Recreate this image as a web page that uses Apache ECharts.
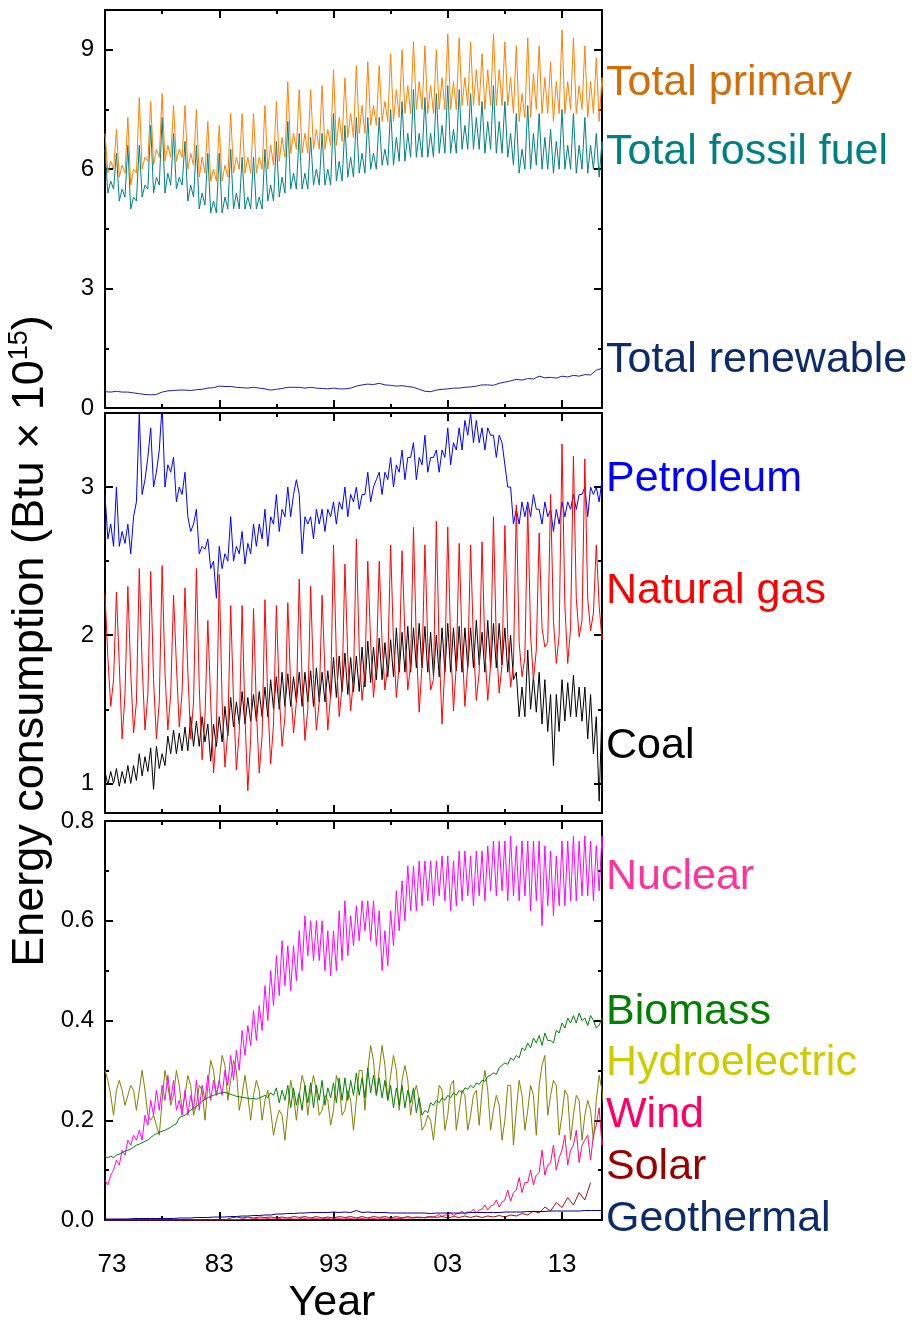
<!DOCTYPE html>
<html><head><meta charset="utf-8">
<script src="https://cdn.jsdelivr.net/npm/echarts@6/dist/echarts.min.js"></script>
<style>html,body{margin:0;padding:0;background:#fff}#c{width:912px;height:1325px}</style>
</head><body><div id="c"></div>
<script>
// ---------------- DATA (Btu x 10^15), first sample = Jan 1973 ----------------
const START_YEAR = 1973;
const QUARTER = 0.25;   // quarterly samples: Jan, Apr, Jul, Oct
const HALF = 0.5;       // half-yearly samples: Jan, Jul

const xMajorTicks = [1973, 1983, 1993, 2003, 2013];
const xMinorTicks = [1978, 1988, 1998, 2008];
const xTickLabels = ['73', '83', '93', '03', '13'];

const yTopTicks = [0, 3, 6, 9];
const yTopMinor = [1.5, 4.5, 7.5];
const yMidTicks = [1, 2, 3];
const yMidMinor = [1.5, 2.5];
const yBotTicks = [0, 0.2, 0.4, 0.6, 0.8];
const yBotMinor = [0.1, 0.3, 0.5, 0.7];

// Top panel
const totalPrimary = [
6.9,5.9,6.2,6.0, 7.0,5.8,6.1,5.9, 7.3,5.6,6.0,5.9, 7.8,6.0,6.3,6.2, 7.7,6.1,6.5,6.3,
7.9,6.2,6.6,6.3, 7.6,6.2,6.5,6.3, 7.6,6.0,6.4,6.1, 7.5,5.8,6.3,5.9, 7.2,5.7,6.0,5.7,
7.1,5.7,6.1,5.8, 7.4,5.9,6.3,6.0, 7.4,5.9,6.3,5.9, 7.4,5.9,6.3,6.0, 7.6,6.0,6.6,6.1,
7.7,6.2,6.8,6.3, 8.2,6.4,6.9,6.5, 8.0,6.4,6.9,6.4, 8.0,6.5,7.0,6.5, 8.1,6.5,7.0,6.6,
8.5,6.6,7.3,6.7, 8.3,6.8,7.4,6.8, 8.6,6.9,7.6,6.9, 8.7,7.1,7.6,7.1, 8.6,7.2,7.7,7.2,
8.9,7.2,8.0,7.3, 9.0,7.4,8.1,7.4, 9.2,7.5,8.2,7.5, 9.1,7.4,8.1,7.4, 9.0,7.5,8.3,7.5,
9.4,7.5,8.2,7.5, 9.3,7.6,8.3,7.6, 9.2,7.6,8.5,7.6, 8.9,7.5,8.5,7.6, 9.4,7.6,8.5,7.6,
9.2,7.6,8.3,7.4, 9.1,7.2,7.9,7.3, 9.3,7.3,8.4,7.5, 9.1,7.4,8.3,7.4, 8.7,7.2,8.2,7.4,
9.5,7.4,8.2,7.5, 9.3,7.4,8.1,7.5, 9.1,7.3,8.2,7.4, 8.8,7.2,8.3,7.4
];
const totalFossil = [
6.5,5.4,5.7,5.5, 6.4,5.2,5.5,5.3, 6.6,5.0,5.3,5.2, 6.6,5.3,5.6,5.5, 7.1,5.4,5.8,5.6,
7.3,5.4,5.9,5.6, 6.9,5.5,5.8,5.6, 6.7,5.2,5.6,5.3, 6.6,5.0,5.4,5.1, 6.4,4.9,5.2,4.9,
6.4,4.9,5.3,5.0, 6.5,5.0,5.4,5.0, 6.3,5.0,5.3,5.0, 6.3,5.0,5.3,5.0, 6.5,5.2,5.6,5.2,
6.7,5.3,5.8,5.4, 7.2,5.5,5.9,5.5, 6.9,5.5,5.9,5.5, 6.8,5.6,6.0,5.6, 6.9,5.6,6.0,5.6,
7.4,5.7,6.2,5.7, 7.1,5.8,6.3,5.8, 7.3,5.9,6.4,5.9, 7.3,6.0,6.4,6.0, 7.3,6.1,6.5,6.1,
7.5,6.1,6.8,6.2, 7.7,6.2,6.9,6.3, 8.0,6.3,6.9,6.3, 7.8,6.3,6.9,6.3, 7.9,6.4,7.1,6.4,
8.1,6.4,7.0,6.4, 8.0,6.5,7.1,6.5, 7.9,6.5,7.3,6.5, 7.7,6.4,7.2,6.5, 8.1,6.4,7.2,6.4,
7.7,6.3,6.9,6.1, 7.4,5.9,6.5,6.0, 7.6,6.0,6.9,6.1, 7.4,6.0,6.8,6.0, 7.0,5.9,6.7,6.0,
7.5,6.0,6.6,6.0, 7.4,5.9,6.6,6.0, 7.3,5.9,6.6,6.0, 6.9,5.8,6.7,5.9
];
const totalRenewable = [
0.41,0.40, 0.42,0.40, 0.40,0.38, 0.36,0.34, 0.33,0.34, 0.40,0.43, 0.44,0.45, 0.45,0.44,
0.46,0.47, 0.50,0.51, 0.55,0.54, 0.54,0.52, 0.51,0.50, 0.52,0.50, 0.48,0.45, 0.47,0.49,
0.52,0.52, 0.52,0.50, 0.52,0.50, 0.49,0.48, 0.50,0.48, 0.48,0.50, 0.55,0.58, 0.60,0.59,
0.62,0.58, 0.57,0.55, 0.56,0.54, 0.52,0.47, 0.42,0.41, 0.45,0.47, 0.48,0.50, 0.50,0.52,
0.53,0.55, 0.58,0.58, 0.57,0.62, 0.65,0.68, 0.72,0.70, 0.74,0.73, 0.80,0.76, 0.77,0.75,
0.80,0.78, 0.82,0.80, 0.84,0.83, 0.95,1.00
];

// Middle panel
const petroleum = [
2.95,2.65,2.75,2.60, 3.00,2.60,2.70,2.62, 2.75,2.55,2.80,2.90, 3.50,2.95,3.05,3.20, 3.40,3.00,3.10,3.25,
3.55,3.00,3.15,3.10, 3.20,2.90,3.00,2.95, 3.10,2.80,2.70,2.75, 2.85,2.55,2.60,2.58, 2.65,2.45,2.50,2.25,
2.60,2.45,2.55,2.50, 2.80,2.50,2.60,2.55, 2.70,2.48,2.62,2.55, 2.75,2.60,2.75,2.65, 2.85,2.60,2.80,2.75,
2.95,2.70,2.85,2.80, 3.00,2.80,2.95,3.05, 2.95,2.55,2.80,2.75, 2.80,2.65,2.85,2.75, 2.85,2.70,2.85,2.80,
2.90,2.75,2.90,2.85, 3.00,2.80,2.95,2.90, 3.00,2.85,2.95,2.95, 3.10,2.90,3.00,3.05, 3.10,2.95,3.10,3.05,
3.20,3.00,3.15,3.10, 3.25,3.05,3.20,3.20, 3.30,3.05,3.20,3.15, 3.35,3.10,3.20,3.20, 3.25,3.10,3.25,3.20,
3.40,3.15,3.30,3.25, 3.40,3.25,3.45,3.35, 3.50,3.30,3.45,3.30, 3.40,3.25,3.40,3.35, 3.35,3.20,3.35,3.30,
3.15,3.00,3.00,2.75, 2.85,2.75,2.90,2.80, 2.90,2.80,2.95,2.85, 2.85,2.75,2.90,2.80, 2.85,2.70,2.85,2.75,
2.90,2.80,2.90,2.85, 2.95,2.85,2.95,2.95, 3.00,2.80,3.00,2.95, 3.00,2.90,3.05,2.95
];
const naturalGas = [
2.28,1.85,1.52,1.70, 2.29,1.80,1.30,1.60, 2.33,1.75,1.34,1.55, 2.45,1.80,1.36,1.60, 2.43,1.70,1.30,1.55,
2.47,1.75,1.36,1.60, 2.27,1.80,1.38,1.62, 2.32,1.75,1.30,1.55, 2.45,1.65,1.16,1.45, 2.10,1.55,1.07,1.35,
2.41,1.55,1.11,1.35, 2.20,1.55,1.09,1.35, 2.20,1.45,0.95,1.30, 2.18,1.50,1.07,1.32, 2.24,1.55,1.13,1.40,
2.20,1.60,1.25,1.45, 2.22,1.65,1.34,1.55, 2.38,1.70,1.29,1.50, 2.33,1.70,1.36,1.55, 2.27,1.75,1.36,1.60,
2.61,1.85,1.45,1.65, 2.48,1.85,1.49,1.70, 2.65,1.90,1.56,1.75, 2.50,1.95,1.58,1.80, 2.50,1.95,1.63,1.80,
2.61,1.95,1.58,1.80, 2.57,2.00,1.63,1.80, 2.73,1.95,1.48,1.80, 2.61,1.95,1.63,1.70, 2.77,1.90,1.40,1.80,
2.73,1.95,1.49,1.80, 2.62,1.95,1.52,1.80, 2.61,1.95,1.56,1.75, 2.63,1.90,1.56,1.80, 2.80,1.95,1.61,1.80,
2.74,2.00,1.65,1.80, 2.88,1.95,1.72,1.85, 2.88,2.00,1.70,1.90, 2.69,2.05,1.92,1.95, 2.95,2.10,1.81,2.00,
3.29,2.20,1.81,2.05, 3.21,2.25,1.99,2.10, 3.19,2.25,2.03,2.15, 2.61,2.20,1.97,2.05
];
const coal = [
1.08,0.99,1.08,1.00, 1.10,0.98,1.08,1.00, 1.12,1.00,1.12,1.02, 1.20,1.05,1.18,1.08, 1.24,0.96,1.25,1.10,
1.20,1.12,1.32,1.20, 1.36,1.20,1.34,1.22, 1.38,1.22,1.45,1.25, 1.42,1.25,1.45,1.28, 1.40,1.15,1.40,1.25,
1.45,1.28,1.52,1.32, 1.58,1.38,1.55,1.40, 1.62,1.40,1.58,1.42, 1.60,1.42,1.62,1.45, 1.65,1.45,1.70,1.50,
1.72,1.50,1.75,1.52, 1.74,1.52,1.72,1.55, 1.75,1.52,1.75,1.55, 1.76,1.52,1.78,1.55, 1.75,1.55,1.76,1.58,
1.85,1.58,1.86,1.62, 1.88,1.60,1.85,1.62, 1.86,1.62,1.92,1.65, 1.96,1.68,1.92,1.70, 1.98,1.70,1.95,1.72,
1.97,1.72,2.05,1.75, 2.02,1.75,2.06,1.75, 2.05,1.78,2.08,1.78, 2.06,1.75,2.02,1.72, 2.00,1.72,2.05,1.75,
2.08,1.75,2.05,1.76, 2.06,1.75,2.05,1.78, 2.05,1.78,2.10,1.80, 2.02,1.75,2.10,1.78, 2.08,1.78,2.08,1.80,
2.05,1.75,2.00,1.70, 1.75,1.45,1.65,1.45, 1.90,1.50,1.72,1.48, 1.75,1.40,1.70,1.35, 1.60,1.12,1.60,1.35,
1.70,1.42,1.68,1.45, 1.73,1.45,1.65,1.42, 1.65,1.30,1.60,1.20, 1.45,0.88,1.50,1.20
];

// Bottom panel
const nuclear = [
0.08,0.07,0.09,0.10, 0.12,0.11,0.14,0.13, 0.16,0.15,0.17,0.16, 0.18,0.16,0.21,0.19, 0.24,0.21,0.26,0.22,
0.27,0.24,0.29,0.24, 0.28,0.22,0.24,0.21, 0.26,0.21,0.25,0.22, 0.28,0.22,0.27,0.24, 0.29,0.24,0.28,0.25,
0.28,0.25,0.30,0.27, 0.33,0.28,0.34,0.30, 0.38,0.33,0.39,0.35, 0.42,0.36,0.43,0.38, 0.47,0.40,0.50,0.43,
0.53,0.45,0.56,0.47, 0.55,0.46,0.55,0.48, 0.58,0.50,0.61,0.53, 0.60,0.52,0.60,0.52, 0.60,0.50,0.58,0.49,
0.58,0.50,0.62,0.52, 0.64,0.53,0.61,0.55, 0.63,0.56,0.64,0.58, 0.64,0.56,0.64,0.55, 0.62,0.50,0.58,0.51,
0.62,0.55,0.66,0.58, 0.68,0.60,0.71,0.62, 0.71,0.62,0.72,0.63, 0.72,0.64,0.72,0.63, 0.72,0.65,0.73,0.64,
0.73,0.62,0.72,0.63, 0.74,0.64,0.74,0.65, 0.73,0.63,0.74,0.65, 0.74,0.64,0.75,0.66, 0.76,0.65,0.76,0.66,
0.76,0.64,0.77,0.65, 0.75,0.64,0.76,0.65, 0.76,0.62,0.76,0.64, 0.76,0.59,0.75,0.63, 0.74,0.61,0.73,0.63,
0.76,0.63,0.76,0.64, 0.77,0.64,0.76,0.65, 0.77,0.65,0.76,0.64, 0.75,0.66,0.77,0.68
];
const biomass = [
0.127,0.125,0.128,0.125, 0.130,0.132,0.135,0.138, 0.140,0.142,0.146,0.150, 0.152,0.155,0.158,0.160, 0.165,0.170,0.173,0.176,
0.178,0.180,0.183,0.186, 0.190,0.193,0.205,0.208, 0.210,0.215,0.220,0.224, 0.227,0.232,0.238,0.242, 0.245,0.248,0.250,0.252,
0.254,0.255,0.256,0.254, 0.252,0.250,0.248,0.247, 0.246,0.245,0.244,0.243, 0.244,0.242,0.245,0.247, 0.250,0.245,0.255,0.250,
0.265,0.235,0.260,0.240, 0.270,0.225,0.265,0.230, 0.255,0.220,0.270,0.235, 0.275,0.225,0.270,0.240, 0.280,0.230,0.265,0.245,
0.275,0.235,0.285,0.240, 0.285,0.240,0.280,0.250, 0.295,0.250,0.285,0.245, 0.305,0.255,0.290,0.250, 0.285,0.245,0.280,0.240,
0.270,0.225,0.265,0.230, 0.270,0.225,0.260,0.235, 0.265,0.215,0.245,0.210, 0.220,0.215,0.235,0.230, 0.240,0.235,0.245,0.240,
0.250,0.245,0.255,0.250, 0.260,0.255,0.265,0.262, 0.270,0.265,0.275,0.272, 0.280,0.278,0.288,0.290, 0.295,0.292,0.305,0.310,
0.315,0.312,0.325,0.320, 0.330,0.325,0.345,0.340, 0.355,0.345,0.365,0.355, 0.370,0.350,0.375,0.360, 0.360,0.355,0.380,0.375,
0.395,0.385,0.405,0.395, 0.410,0.395,0.415,0.400, 0.405,0.390,0.410,0.400, 0.385,0.390,0.405,0.400
];
const hydroelectric = [
0.30,0.28,0.25,0.21, 0.26,0.28,0.26,0.23, 0.25,0.27,0.26,0.22, 0.26,0.30,0.26,0.21, 0.20,0.21,0.19,0.17,
0.24,0.30,0.27,0.23, 0.25,0.30,0.27,0.22, 0.25,0.29,0.27,0.21, 0.23,0.27,0.26,0.20, 0.27,0.32,0.30,0.25,
0.28,0.33,0.31,0.24, 0.28,0.32,0.30,0.22, 0.25,0.29,0.25,0.20, 0.25,0.28,0.26,0.20, 0.24,0.26,0.22,0.17,
0.20,0.22,0.21,0.16, 0.22,0.28,0.25,0.20, 0.25,0.29,0.27,0.21, 0.26,0.29,0.26,0.21, 0.22,0.25,0.24,0.19,
0.22,0.29,0.27,0.21, 0.22,0.26,0.24,0.18, 0.24,0.30,0.30,0.22, 0.30,0.35,0.32,0.25, 0.30,0.35,0.31,0.24,
0.29,0.33,0.30,0.22, 0.28,0.31,0.28,0.21, 0.25,0.27,0.24,0.18, 0.19,0.21,0.20,0.16, 0.22,0.27,0.26,0.18,
0.21,0.27,0.28,0.18, 0.22,0.26,0.25,0.18, 0.21,0.25,0.26,0.19, 0.26,0.30,0.26,0.18, 0.22,0.25,0.23,0.16,
0.20,0.27,0.27,0.15, 0.22,0.28,0.25,0.18, 0.22,0.27,0.25,0.17, 0.27,0.31,0.33,0.21, 0.25,0.28,0.27,0.17,
0.21,0.26,0.25,0.16, 0.21,0.25,0.24,0.16, 0.21,0.24,0.22,0.16, 0.24,0.29,0.26,0.20
];
const wind = [
0,0,0,0, 0,0,0,0, 0,0,0,0, 0,0,0,0, 0,0,0,0,
0,0,0,0, 0,0,0,0, 0,0,0,0, 0,0,0,0, 0,0,0,0,
0,0,0,0.001, 0.001,0.001,0.001,0.001, 0.002,0.002,0.001,0.002, 0.002,0.003,0.002,0.002, 0.002,0.003,0.002,0.002,
0.002,0.003,0.002,0.002, 0.002,0.003,0.002,0.002, 0.002,0.004,0.003,0.002, 0.002,0.004,0.003,0.002, 0.002,0.004,0.003,0.002,
0.002,0.004,0.003,0.002, 0.002,0.004,0.003,0.002, 0.002,0.004,0.003,0.002, 0.002,0.004,0.003,0.002, 0.002,0.004,0.003,0.002,
0.003,0.004,0.003,0.003, 0.003,0.005,0.004,0.004, 0.005,0.006,0.004,0.005, 0.005,0.007,0.005,0.006, 0.008,0.011,0.007,0.010,
0.010,0.014,0.009,0.012, 0.013,0.018,0.011,0.016, 0.016,0.022,0.014,0.020, 0.022,0.030,0.020,0.028, 0.030,0.040,0.026,0.036,
0.040,0.060,0.038,0.055, 0.060,0.085,0.055,0.075, 0.075,0.100,0.070,0.090, 0.095,0.140,0.090,0.110, 0.115,0.150,0.100,0.125,
0.140,0.170,0.110,0.140, 0.150,0.180,0.115,0.150, 0.160,0.170,0.120,0.170, 0.190,0.225,0.150,0.180
];
const solar = [
0,0, 0,0, 0,0, 0,0, 0,0, 0,0, 0,0, 0,0, 0,0, 0,0,
0,0, 0.004,0.006, 0.004,0.006, 0.004,0.006, 0.005,0.006, 0.004,0.006, 0.004,0.007, 0.005,0.007, 0.004,0.007, 0.004,0.006,
0.004,0.007, 0.005,0.007, 0.004,0.007, 0.004,0.007, 0.005,0.007, 0.004,0.007, 0.004,0.007, 0.004,0.006, 0.004,0.007, 0.005,0.007,
0.004,0.007, 0.005,0.008, 0.005,0.008, 0.005,0.008, 0.006,0.009, 0.006,0.010, 0.008,0.013, 0.010,0.018, 0.014,0.026, 0.018,0.035,
0.025,0.045, 0.030,0.055, 0.040,0.075
];
const geothermal = [
0.002,0.002, 0.002,0.002, 0.002,0.003, 0.003,0.003, 0.003,0.003, 0.003,0.003, 0.003,0.004, 0.004,0.004, 0.005,0.005, 0.005,0.006,
0.006,0.006, 0.007,0.007, 0.008,0.008, 0.009,0.009, 0.010,0.010, 0.012,0.012, 0.013,0.013, 0.014,0.014, 0.015,0.015, 0.015,0.015,
0.016,0.015, 0.016,0.015, 0.019,0.015, 0.016,0.015, 0.015,0.015, 0.014,0.014, 0.014,0.014, 0.014,0.014, 0.014,0.013, 0.014,0.014,
0.014,0.014, 0.014,0.014, 0.015,0.015, 0.015,0.015, 0.015,0.015, 0.016,0.016, 0.016,0.016, 0.017,0.017, 0.017,0.017, 0.018,0.018,
0.018,0.018, 0.018,0.018, 0.019,0.019, 0.019,0.019
];

// ---------------- LAYOUT / STYLE ----------------
const FONT = "'Liberation Sans', Arial, sans-serif";
const X_MIN = 1973, X_MAX = 2016.5;
const panels = [
  {top: 10,  height: 398, min: 0,   max: 10,  major: yTopTicks, minor: yTopMinor, fmt: v => String(v)},
  {top: 413, height: 400, min: 0.8, max: 3.5, major: yMidTicks, minor: yMidMinor, fmt: v => String(v)},
  {top: 821, height: 399, min: 0,   max: 0.8, major: yBotTicks, minor: yBotMinor, fmt: v => v.toFixed(1)}
];

function pairs(vals, step) { return vals.map((v, i) => [START_YEAR + i * step, v]); }

const grid = panels.map(p => ({left: 105, right: 310, top: p.top, height: p.height}));
const xAxis = [], yAxis = [];
const lineBlack = {color: '#000', width: 2};
panels.forEach((p, g) => {
  ['bottom', 'top'].forEach(pos => {
    xAxis.push({
      type: 'value', gridIndex: g, position: pos, min: X_MIN, max: X_MAX,
      axisLine: {show: true, onZero: false, lineStyle: lineBlack},
      axisTick: {show: true, inside: true, length: 8, customValues: xMajorTicks, lineStyle: lineBlack},
      axisLabel: {
        show: g === 2 && pos === 'bottom', customValues: xMajorTicks, margin: 32,
        fontSize: 26, fontFamily: FONT, color: '#000',
        formatter: v => { const i = xMajorTicks.indexOf(v); if (i < 0) return ''; return i === 0 ? '{f|' + xTickLabels[i] + '}' : xTickLabels[i]; },
        rich: {f: {fontSize: 26, fontFamily: FONT, color: '#000', padding: [0, 0, 0, 14]}}
      },
      splitLine: {show: false}
    });
  });
  ['bottom', 'top'].forEach(pos => {
    xAxis.push({
      type: 'value', gridIndex: g, position: pos, min: X_MIN, max: X_MAX,
      axisLine: {show: false, onZero: false},
      axisTick: {show: true, inside: true, length: 4, customValues: xMinorTicks, lineStyle: lineBlack},
      axisLabel: {show: false}, splitLine: {show: false}
    });
  });
  ['left', 'right'].forEach(pos => {
    yAxis.push({
      type: 'value', gridIndex: g, position: pos, min: p.min, max: p.max,
      axisLine: {show: true, onZero: false, lineStyle: lineBlack},
      axisTick: {show: true, inside: true, length: 8, customValues: p.major, lineStyle: lineBlack},
      axisLabel: {show: pos === 'left', customValues: p.major, margin: 11, fontSize: 24, fontFamily: FONT, color: '#000', formatter: p.fmt},
      splitLine: {show: false}
    });
  });
  ['left', 'right'].forEach(pos => {
    yAxis.push({
      type: 'value', gridIndex: g, position: pos, min: p.min, max: p.max,
      axisLine: {show: false, onZero: false},
      axisTick: {show: true, inside: true, length: 4, customValues: p.minor, lineStyle: lineBlack},
      axisLabel: {show: false}, splitLine: {show: false}
    });
  });
});

const seriesDefs = [
  {name: 'Total fossil fuel', data: totalFossil, step: QUARTER, g: 0, color: '#008080'},
  {name: 'Total primary', data: totalPrimary, step: QUARTER, g: 0, color: '#FF8000'},
  {name: 'Total renewable', data: totalRenewable, step: HALF, g: 0, color: '#1E1EA8'},
  {name: 'Petroleum', data: petroleum, step: QUARTER, g: 1, color: '#0000FF'},
  {name: 'Coal', data: coal, step: QUARTER, g: 1, color: '#000000'},
  {name: 'Natural gas', data: naturalGas, step: QUARTER, g: 1, color: '#FF0000'},
  {name: 'Hydroelectric', data: hydroelectric, step: QUARTER, g: 2, color: '#808000'},
  {name: 'Nuclear', data: nuclear, step: QUARTER, g: 2, color: '#FF00FF'},
  {name: 'Biomass', data: biomass, step: QUARTER, g: 2, color: '#008000'},
  {name: 'Wind', data: wind, step: QUARTER, g: 2, color: '#FF0A78'},
  {name: 'Solar', data: solar, step: HALF, g: 2, color: '#A01010'},
  {name: 'Geothermal', data: geothermal, step: HALF, g: 2, color: '#000099'}
];
const series = seriesDefs.map(s => ({
  name: s.name, type: 'line', xAxisIndex: s.g * 4, yAxisIndex: s.g * 4,
  data: pairs(s.data, s.step), showSymbol: false, symbol: 'none', clip: true,
  lineStyle: {color: s.color, width: 1}, itemStyle: {color: s.color}, animation: false
}));

const labelDefs = [
  {text: 'Total primary', y: 83, color: '#D26E0A'},
  {text: 'Total fossil fuel', y: 152, color: '#008080'},
  {text: 'Total renewable', y: 360, color: '#0D2B6B'},
  {text: 'Petroleum', y: 479, color: '#0000FF'},
  {text: 'Natural gas', y: 591, color: '#FF0000'},
  {text: 'Coal', y: 746, color: '#000000'},
  {text: 'Nuclear', y: 877, color: '#FF3399'},
  {text: 'Biomass', y: 1012, color: '#008000'},
  {text: 'Hydroelectric', y: 1063, color: '#CCCC00'},
  {text: 'Wind', y: 1115, color: '#FF0066'},
  {text: 'Solar', y: 1167, color: '#990000'},
  {text: 'Geothermal', y: 1219, color: '#0D2B6B'}
];
const graphic = labelDefs.map(l => ({
  type: 'text', x: 606, y: l.y,
  style: {text: l.text, fill: l.color, font: '43px ' + FONT, align: 'left', textAlign: 'left', verticalAlign: 'middle', textVerticalAlign: 'middle'}
}));
graphic.push({
  type: 'text', x: 332, y: 1303,
  style: {text: 'Year', fill: '#000', font: '43px ' + FONT, align: 'center', textAlign: 'center', verticalAlign: 'middle', textVerticalAlign: 'middle'}
});
graphic.push({
  type: 'text', x: 31, y: 641, rotation: Math.PI / 2,
  style: {
    text: '{a|Energy consumption (Btu × 10}{s|15}{a|)}', fill: '#000',
    align: 'center', textAlign: 'center', verticalAlign: 'middle', textVerticalAlign: 'middle',
    rich: {
      a: {fontSize: 45, fontFamily: FONT, color: '#000', lineHeight: 50},
      s: {fontSize: 27, fontFamily: FONT, color: '#000', verticalAlign: 'top', lineHeight: 50}
    }
  }
});

const chart = echarts.init(document.getElementById('c'), null, {renderer: 'canvas'});
chart.setOption({animation: false, backgroundColor: '#fff', grid, xAxis, yAxis, series, graphic});
</script></body></html>
